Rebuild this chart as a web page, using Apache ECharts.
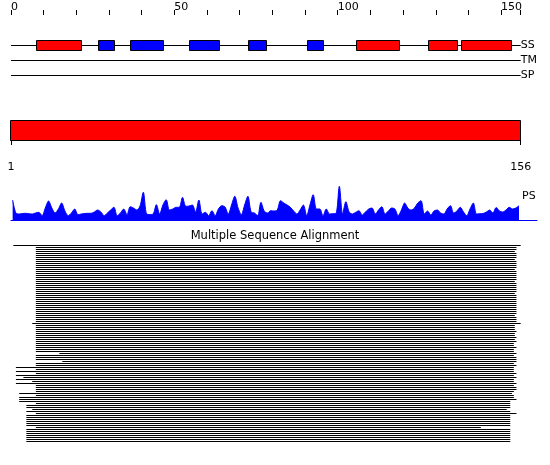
<!DOCTYPE html>
<html>
<head>
<meta charset="utf-8">
<script src="https://cdn.jsdelivr.net/npm/echarts@6/dist/echarts.min.js"></script>
<style>
html, body { margin: 0; padding: 0; background: #fff; }
#chart { width: 550px; height: 465px; }
</style>
</head>
<body>
<div id="chart"></div>
<script>
/* global echarts */
const seqLength = 156
const tracks = ['SS', 'TM', 'SP']

// secondary structure elements (H = helix, E = strand), residue units
const ssStart = [7.7, 26.7, 36.5, 54.6, 72.6, 90.7, 105.7, 127.7, 137.8]
const ssEnd = [21.6, 31.7, 46.7, 63.9, 78.0, 95.7, 119.0, 136.7, 153.0]
const ssType = ['H', 'E', 'E', 'E', 'E', 'E', 'H', 'H', 'H']

// PS profile, one value per residue
const psValues = [
  20, 7, 6, 6.5, 6.7, 6.3, 6, 7, 7.7, 4.3,
  12, 19, 12, 7, 11, 17, 9, 4.3, 7, 11,
  5.3, 6, 6.5, 6.7, 6.7, 8, 10, 8, 4.3, 7,
  10, 12.7, 4.3, 7, 11, 5.3, 13.3, 12, 10, 14,
  27.7, 6, 5.5, 6, 15.3, 6, 15, 20.3, 10, 11,
  12.7, 12.7, 22.7, 13.7, 14, 15, 8, 20, 6, 7.7,
  4.3, 9.3, 4.3, 11, 14.3, 13, 6, 15, 23.7, 12,
  5.3, 15, 23.7, 8, 7, 4.3, 17.7, 9, 7, 9.3,
  9, 10, 19.3, 17, 15, 12.7, 9, 6, 10, 15,
  4.3, 15, 25.3, 11, 11, 4.3, 11, 6, 6.3, 6.7,
  33.7, 6, 18.3, 8, 6, 7.7, 9.3, 5, 8, 11,
  12, 6, 10, 13.3, 6, 9, 12, 11, 4.3, 10,
  17, 11.7, 10, 12, 17, 19.3, 6, 9, 5, 9,
  10, 7, 6, 11, 14.3, 7, 9, 12.7, 8, 4.3,
  11, 17, 6, 6.3, 6.5, 8, 10, 7, 12.5, 9,
  8, 10, 12.7, 11, 12, 14.3
]

// alignment rows: first and last covered position
const msaStart = [
  0.7,
  7.6, 7.6, 7.6, 7.6, 7.6, 7.6, 7.6, 7.6, 7.6, 7.6,
  7.6, 7.6, 7.6, 7.6, 7.6, 7.6, 7.6, 7.6, 7.6, 7.6,
  7.6, 7.6, 7.6, 7.6, 7.6, 7.6, 7.6, 7.6, 7.6, 7.6,
  7.6, 7.6, 7.6, 7.6, 7.6, 7.6, 7.6, 7.6, 6.5, 7.6,
  7.6, 7.6, 7.6, 7.6, 7.6, 7.6, 7.6,
  7.6, 7.6, 7.6, 7.6, 7.6, 7.6, 14.8, 7.6, 7.6, 7.6,
  15.7, 7.6, 7.6, 1.5, 7.6, 1.5, 7.6, 1.5, 3.8, 1.5,
  6.5, 1.5, 7.6, 7.6, 7.6, 7.6, 2.5, 7.6, 2.5, 2.5,
  2.5, 7.6, 4.7, 4.7, 6.5, 4.7, 7.6, 4.7, 4.7, 4.7,
  4.7, 4.7, 4.7, 7.6, 4.7, 4.7, 4.7, 4.7, 4.7, 4.7, 4.7
]
const msaEnd = [
  156,
  154.7, 154.7, 154.2, 154.7, 154.7, 154.7, 154.2, 154.7, 154.7, 154.7,
  154.7, 154.2, 154.7, 154.7, 154.7, 154.7, 154.7, 154.2, 154.7, 154.7,
  154.7, 154.7, 154.7, 154.2, 154.7, 154.7, 154.7, 154.7, 154.7, 154.7,
  154.7, 154.7, 154.7, 154.7, 154.2, 154.7, 154.7, 154.7, 156.0, 154.2,
  154.2, 154.2, 154.7, 154.2, 154.2, 154.7, 154.2,
  154.7, 153.9, 153.9, 154.7, 153.9, 153.9, 154.7, 153.9, 154.7, 154.7,
  154.7, 153.9, 154.7, 153.9, 153.9, 153.9, 154.7, 153.9, 154.7, 153.9,
  153.9, 154.7, 153.9, 154.7, 154.7, 153.9, 153.3, 153.9, 153.9, 154.7,
  152.8, 152.8, 152.8, 152.8, 151.7, 152.8, 154.7, 152.8, 152.8, 152.8,
  152.8, 152.8, 152.8, 143.8, 152.8, 152.8, 152.8, 152.8, 152.8, 152.8, 152.8
]

const font = 'DejaVu Sans'
const crisp = v => Math.round(v) + 0.5

function renderTrackLine (params, api) {
  const a = api.coord([api.value(0), api.value(2)])
  const b = api.coord([api.value(1), api.value(2)])
  const y = crisp(a[1])
  return { type: 'line', shape: { x1: a[0], y1: y, x2: b[0], y2: y }, style: { stroke: '#000', lineWidth: 1 } }
}

function renderSS (params, api) {
  const a = api.coord([api.value(0), api.value(2)])
  const b = api.coord([api.value(1), api.value(2)])
  return {
    type: 'rect',
    shape: { x: crisp(a[0]), y: crisp(a[1] - 5), width: Math.round(b[0] - a[0]), height: 10 },
    style: { fill: ssType[params.dataIndex] === 'H' ? '#ff0000' : '#0000ff', stroke: '#000', lineWidth: 1 }
  }
}

function renderBigBar (params, api) {
  const a = api.coord([api.value(0), 1])
  const b = api.coord([api.value(1), 0])
  return {
    type: 'rect',
    shape: { x: crisp(a[0] - 1), y: crisp(a[1]), width: Math.round(b[0] - a[0]), height: Math.round(b[1] - a[1]) },
    style: { fill: '#ff0000', stroke: '#000', lineWidth: 1 }
  }
}

function renderRow (params, api) {
  const a = api.coord([api.value(0), api.value(2)])
  const b = api.coord([api.value(1), api.value(2)])
  return { type: 'rect', shape: { x: a[0], y: Math.round(a[1]), width: b[0] - a[0], height: 1 }, style: { fill: '#000' } }
}

const chart = echarts.init(document.getElementById('chart'))
const blackAxis = { lineStyle: { color: '#000', width: 1 } }

chart.setOption({
  animation: false,
  backgroundColor: '#fff',
  textStyle: { fontFamily: font },
  grid: [
    { left: 11, right: 29.3, top: 37.5, height: 45, containLabel: false, outerBoundsMode: 'none' },
    { left: 11, right: 29.3, top: 120, height: 20, containLabel: false, outerBoundsMode: 'none' },
    { left: 11, width: 526, top: 180, height: 40, containLabel: false, outerBoundsMode: 'none' },
    { left: 11, right: 29.3, top: 245, height: 198, containLabel: false, outerBoundsMode: 'none' }
  ],
  xAxis: [
    {
      gridIndex: 0,
      type: 'value',
      position: 'top',
      offset: 22.5,
      min: 0,
      max: seqLength,
      interval: 10,
      axisLine: blackAxis,
      axisTick: { show: true, length: 5, lineStyle: { color: '#000' } },
      axisLabel: {
        formatter: v => (v % 50 === 0 ? String(v) : ''),
        align: 'left',
        margin: 2,
        color: '#000',
        fontFamily: font,
        fontSize: 11
      },
      splitLine: { show: false }
    },
    {
      gridIndex: 1,
      type: 'value',
      position: 'bottom',
      offset: 10,
      min: 0,
      max: seqLength,
      interval: seqLength,
      axisLine: blackAxis,
      axisTick: { show: true, length: 5, lineStyle: { color: '#000' } },
      axisLabel: {
        formatter: v => (v === 0 ? '1' : String(v)),
        margin: 12,
        color: '#000',
        fontFamily: font,
        fontSize: 11
      },
      splitLine: { show: false }
    },
    {
      gridIndex: 2,
      type: 'value',
      min: 0,
      max: 161,
      axisLine: { lineStyle: { color: '#0000ff', width: 1 } },
      axisTick: { show: false },
      axisLabel: { show: false },
      splitLine: { show: false }
    },
    { gridIndex: 3, type: 'value', min: 0, max: seqLength, show: false }
  ],
  yAxis: [
    {
      gridIndex: 0,
      type: 'category',
      data: tracks,
      inverse: true,
      position: 'right',
      axisLine: { show: false },
      axisTick: { show: false },
      axisLabel: { interval: 0, align: 'left', margin: 0, color: '#000', fontFamily: font, fontSize: 11 },
      splitLine: { show: false }
    },
    { gridIndex: 1, type: 'value', min: 0, max: 1, show: false },
    { gridIndex: 2, type: 'value', min: 0, max: 40, show: false },
    { gridIndex: 3, type: 'value', min: 0, max: 99, inverse: true, show: false }
  ],
  graphic: [
    { type: 'text', left: 522, top: 191, style: { text: 'PS', fill: '#000', font: '11px "DejaVu Sans"' } },
    { type: 'text', left: 'center', top: 230, style: { text: 'Multiple Sequence Alignment', fill: '#000', font: '11.5px "DejaVu Sans"' } }
  ],
  series: [
    {
      type: 'custom',
      xAxisIndex: 0,
      yAxisIndex: 0,
      renderItem: renderTrackLine,
      data: tracks.map((t, i) => [0, seqLength, i]),
      silent: true
    },
    {
      type: 'custom',
      xAxisIndex: 0,
      yAxisIndex: 0,
      renderItem: renderSS,
      data: ssStart.map((s, i) => [s, ssEnd[i], 0]),
      silent: true,
      z: 3
    },
    {
      type: 'custom',
      xAxisIndex: 1,
      yAxisIndex: 1,
      renderItem: renderBigBar,
      data: [[0, seqLength]],
      silent: true
    },
    {
      type: 'line',
      xAxisIndex: 2,
      yAxisIndex: 2,
      data: psValues.map((v, i) => [i + 0.5, v]),
      showSymbol: false,
      smooth: 0.3,
      lineStyle: { color: '#0000ff', width: 1 },
      areaStyle: { color: '#0000ff', opacity: 1 },
      silent: true
    },
    {
      type: 'custom',
      xAxisIndex: 3,
      yAxisIndex: 3,
      renderItem: renderRow,
      data: msaStart.map((s, k) => [s, msaEnd[k], k]),
      silent: true
    }
  ]
})
</script>
</body>
</html>
